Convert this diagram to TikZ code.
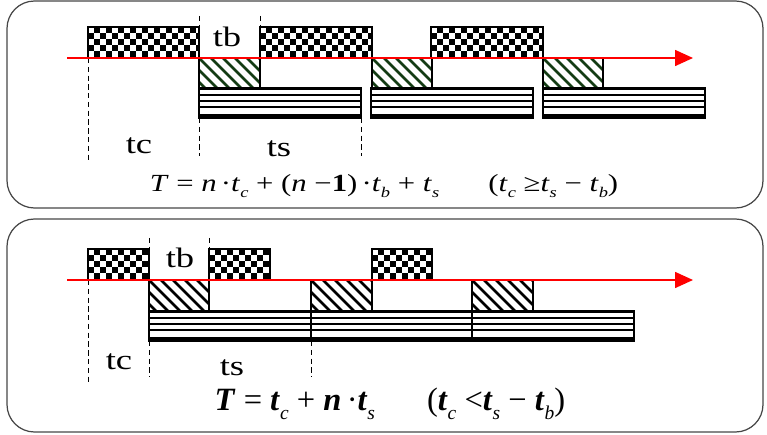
\documentclass[tikz,border=0pt]{standalone}
\usepackage{fontspec}
\setmainfont{Liberation Serif}
\newfontfamily\lblfont[FakeStretch=1.3]{Liberation Serif}
\newfontfamily\wserif[FakeStretch=1.25]{Liberation Serif}
\usepackage{tikz}
\usetikzlibrary{arrows.meta}
\definecolor{dRed}{RGB}{255,0,0}
\definecolor{dHatch}{RGB}{20,60,20}
\definecolor{dFrame}{RGB}{70,70,70}
\tikzset{
  panel/.style={draw=dFrame, line width=0.7pt, rounded corners=0.55cm},
  boxln/.style={draw=black, line width=0.6pt},
  guide/.style={draw=black, line width=0.5pt, dash pattern=on 3pt off 2pt},
  timeax/.style={draw=dRed, line width=0.9pt,
                 -{Triangle[length=3.6mm,width=3.2mm]}},
  lbl/.style={font=\lblfont\fontsize{16}{18}\selectfont, inner sep=0pt},
  frm/.style={inner sep=0pt},
}
\newcommand{\ChkBox}[4]{%
  \begin{scope}
    \clip (#1,#2) rectangle (#3,#4);
    \fill[white] (#1,#2) rectangle (#3,#4);
    \foreach \i in {0,...,19}{\foreach \j in {0,...,5}{%
      \pgfmathtruncatemacro{\chk}{mod(\i+\j,2)}%
      \ifnum\chk=1 \fill[black] ({#1+6*\i},{#2+6*\j}) rectangle ++(6,6);\fi}}
  \end{scope}
  \draw[boxln] (#1,#2) rectangle (#3,#4);}
\newcommand{\HatBox}[5]{%
  \begin{scope}
    \clip (#1,#2) rectangle (#3,#4);
    \fill[white] (#1,#2) rectangle (#3,#4);
    \foreach \k in {-36,-24,...,72}
      \draw[#5, line width=1.5pt] ({#1+\k},#2) -- ++(36,36);
  \end{scope}
  \draw[boxln] (#1,#2) rectangle (#3,#4);}
\newcommand{\StrBox}[4]{%
  \fill[white] (#1,#2) rectangle (#3,#4);
  \foreach \k in {1,7,13,19}
    \draw[line width=1.15pt] (#1,{#2+\k}) -- (#3,{#2+\k});
  \fill[black] (#1,{#4-4}) rectangle (#3,#4);
  \draw[boxln] (#1,#2) rectangle (#3,#4);}
\newcommand{\vi}[1]{\textit{#1}}
\newcommand{\sbs}[1]{\raisebox{-0.6ex}{\scalebox{0.6}{\itshape #1}}}

\begin{document}
\begin{tikzpicture}[x=0.02cm, y=-0.02cm]
  \useasboundingbox (0,0) rectangle (767,435);

  % panels
  \draw[panel] (7,1) rectangle (763,208);
  \draw[panel] (7,219) rectangle (763,432);

  % top panel -- blocks
  \ChkBox{88}{27}{199}{58}
  \ChkBox{260}{27}{372}{58}
  \ChkBox{431}{27}{543}{58}
  \HatBox{199}{58}{260}{88}{dHatch}
  \HatBox{372}{58}{432}{88}{dHatch}
  \HatBox{543}{58}{603}{88}{dHatch}
  \StrBox{199}{88}{361}{118}
  \StrBox{371}{88}{533}{118}
  \StrBox{543}{88}{705}{118}

  % top panel -- guides and time axis
  \draw[guide] (88,58) -- (88,160);
  \draw[guide] (199,16) -- (199,27);
  \draw[guide] (260,16) -- (260,27);
  \draw[guide] (199,118) -- (199,156);
  \draw[guide] (361,118) -- (361,156);
  \coordinate (axA0) at (67,58);
  \coordinate (axA1) at (693,58);
  \draw[timeax] (axA0) -- (axA1);

  \node[lbl] (tbA) at (227,37) {tb};
  \node[lbl] (tcA) at (139,146) {tc};
  \node[lbl] (tsA) at (279,149) {ts};
  \node[frm, font=\wserif\fontsize{14}{16}\selectfont] (fA) at (384,186)
    {\vi{T} = \vi{n}\,·\vi{t}\sbs{c} + (\vi{n} −\textbf{1})\,·\vi{t}\sbs{b} + \vi{t}\sbs{s}\hspace{2em}(\vi{t}\sbs{c} ≥\vi{t}\sbs{s} − \vi{t}\sbs{b})};

  % bottom panel -- blocks
  \ChkBox{88}{249}{149}{280}
  \ChkBox{209}{249}{270}{280}
  \ChkBox{372}{249}{432}{280}
  \HatBox{149}{280}{209}{311}{black}
  \HatBox{311}{280}{372}{311}{black}
  \HatBox{472}{280}{533}{311}{black}
  \StrBox{149}{311}{311}{341}
  \StrBox{311}{311}{472}{341}
  \StrBox{472}{311}{634}{341}

  % bottom panel -- guides and time axis
  \draw[guide] (88,280) -- (88,382);
  \draw[guide] (149,238) -- (149,249);
  \draw[guide] (209,238) -- (209,249);
  \draw[guide] (149,341) -- (149,377);
  \draw[guide] (311,341) -- (311,377);
  \coordinate (axB0) at (67,280);
  \coordinate (axB1) at (693,280);
  \draw[timeax] (axB0) -- (axB1);

  \node[lbl] (tbB) at (180,258) {tb};
  \node[lbl] (tcB) at (119,362) {tc};
  \node[lbl] (tsB) at (232,368) {ts};
  \node[frm, font=\fontsize{18.5}{21}\selectfont] (fB) at (390,404)
    {\textbf{\vi{T}} = \textbf{\vi{t}}\sbs{c} + \textbf{\vi{n}}\,·\textbf{\vi{t}}\sbs{s}\hspace{1.6em}(\textbf{\vi{t}}\sbs{c} <\textbf{\vi{t}}\sbs{s} − \textbf{\vi{t}}\sbs{b})};
\end{tikzpicture}
\end{document}
